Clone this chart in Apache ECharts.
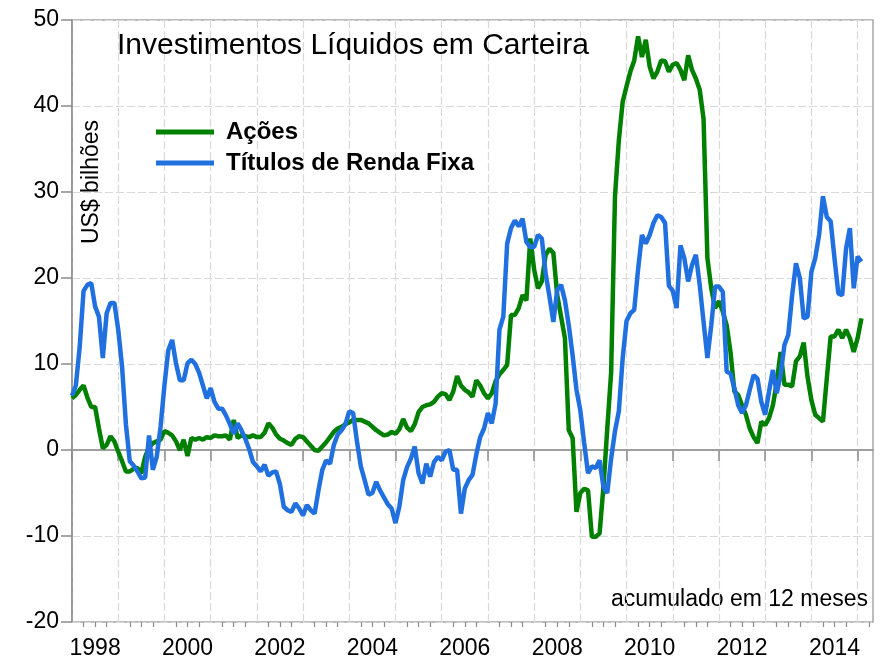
<!DOCTYPE html>
<html>
<head>
<meta charset="utf-8">
<script src="https://cdn.jsdelivr.net/npm/echarts@6/dist/echarts.min.js"></script>
<style>
  html, body { margin: 0; padding: 0; background: #fff; }
  #chart { width: 882px; height: 662px; }
</style>
</head>
<body>
<div id="chart"></div>
<script>
// meses de jan/1998 a mai/2015 (eixo)
var months = [];
for (var y = 1998; y <= 2015; y++) {
  for (var m = 1; m <= 12; m++) {
    if (months.length < 209) months.push(y + '-' + (m < 10 ? '0' + m : m));
  }
}

// anos com rótulo no eixo x
var labelYears = ['1998', '2000', '2002', '2004', '2006', '2008', '2010', '2012', '2014'];

// Ações - US$ bilhões, acumulado em 12 meses (jan/1998 ...)
var acoes = [
  6.0, 6.4, 7.0, 7.5, 6.1, 5.0, 5.0, 2.5, 0.2, 0.6, 1.6, 1.0,
  -0.2, -1.3, -2.5, -2.5, -2.2, -2.1, -2.7, -0.8, 0.3, 0.8, 1.0, 1.2,
  2.2, 2.0, 1.7, 1.0, 0.0, 1.2, -0.7, 1.4, 1.2, 1.4, 1.2, 1.5,
  1.4, 1.7, 1.6, 1.6, 1.7, 1.2, 3.5, 1.4, 1.7, 1.6, 1.5, 1.7,
  1.5, 1.5, 2.0, 3.1, 2.6, 1.8, 1.3, 1.1, 0.8, 0.6, 1.3, 1.6,
  1.5, 1.0, 0.5, 0.0, -0.1, 0.4, 0.9, 1.5, 2.1, 2.5, 2.7, 3.0,
  3.2, 3.5, 3.5, 3.5, 3.3, 3.1, 2.7, 2.3, 2.0, 1.7, 1.8, 2.1,
  1.9, 2.4, 3.6, 2.6, 2.2, 3.0, 4.4, 5.0, 5.2, 5.3, 5.6, 6.2,
  6.6, 6.5, 5.8, 6.8, 8.6, 7.5, 7.0, 6.7, 6.2, 8.1, 7.5, 6.6,
  6.0, 6.6, 8.0, 8.8, 9.3, 9.9, 15.7, 15.7, 16.5, 18.0, 17.4, 24.6,
  21.0, 18.8, 19.6, 22.7, 23.4, 22.9, 18.0, 15.5, 13.0, 2.3, 1.4, -7.2,
  -5.0, -4.5, -4.7, -10.1, -10.1, -9.7, -4.3, 2.5, 9.0, 29.5, 36.0, 40.5,
  42.3, 44.0, 45.3, 48.1, 45.7, 47.7, 44.6, 43.2, 44.0, 45.3, 45.2, 44.0,
  44.8, 45.0, 44.2, 43.0, 45.9, 44.2, 43.2, 41.9, 38.5, 22.3, 18.8, 16.5,
  17.3, 16.1, 14.5, 11.4, 6.8, 6.4, 5.2, 4.1, 2.5, 1.5, 0.8, 3.3,
  2.9, 3.7, 5.2, 7.8, 11.4, 7.6, 7.6, 7.4, 10.3, 10.9, 12.5, 8.5,
  5.8, 4.1, 3.7, 3.3, 8.3, 13.2, 13.2, 14.0, 13.0, 14.0, 13.0, 11.4,
  13.0, 15.3
];

// Títulos de Renda Fixa
var titulos = [
  6.3, 7.5, 12.0, 18.5, 19.2, 19.4, 16.7, 15.5, 10.7, 15.9, 17.1, 17.1,
  14.0, 9.7, 3.0, -1.3, -1.8, -2.5, -3.3, -3.2, 1.7, -2.3, -0.8, 2.7,
  7.5, 11.6, 12.8, 10.1, 8.1, 8.1, 10.1, 10.5, 10.0, 9.0, 7.5, 6.0,
  7.2, 5.6, 4.8, 4.8, 4.0, 3.0, 1.9, 3.1, 2.3, 1.3, 0.1, -1.4,
  -1.9, -2.5, -1.7, -3.0, -2.6, -2.5, -4.0, -6.6, -7.0, -7.2, -6.2, -6.8,
  -7.6, -6.4, -7.0, -7.4, -4.7, -2.3, -1.2, -1.6, 0.6, 1.8, 2.3, 3.0,
  4.5, 4.3, 1.0, -1.9, -3.5, -5.2, -5.0, -3.7, -4.7, -5.5, -6.3, -6.8,
  -8.5, -6.6, -3.5, -2.0, -1.0, 0.4, -2.7, -3.9, -1.6, -3.1, -1.4, -0.8,
  -1.2, -0.2, 0.0, -2.3, -2.3, -7.4, -4.5, -3.5, -2.9, -0.5, 1.5, 2.5,
  4.3, 3.1, 5.4, 14.0, 15.5, 24.0, 25.8, 26.7, 26.0, 26.9, 24.2, 23.6,
  23.6, 25.0, 24.6, 20.5, 17.8, 14.9, 18.6, 19.2, 17.4, 14.5, 11.0, 7.0,
  4.6, 0.8, -2.7, -1.9, -2.1, -1.2, -4.3, -5.0, -1.0, 2.2, 4.5, 10.7,
  15.0, 15.9, 16.3, 21.0, 25.0, 24.0, 25.0, 26.4, 27.3, 27.1, 26.4, 19.1,
  18.5, 16.5, 23.8, 22.3, 19.6, 21.5, 22.7, 19.2, 14.9, 10.7, 14.5, 19.0,
  19.0, 18.4, 9.1, 8.9, 7.2, 5.2, 4.3, 5.2, 7.0, 8.7, 8.3, 5.6,
  4.1, 6.8, 9.3, 6.6, 8.7, 12.2, 13.4, 18.0, 21.7, 20.0, 15.3, 15.5,
  20.7, 22.3, 25.0, 29.5, 27.1, 26.6, 22.3, 18.2, 18.0, 23.4, 25.8, 18.8,
  22.5, 21.9
];

var font = 'Liberation Sans';
var axisGray = '#8c8c8c';

var chart = echarts.init(document.getElementById('chart'));

var option = {
  animation: false,
  backgroundColor: '#fff',
  title: {
    text: 'Investimentos Líquidos em Carteira',
    left: 117,
    top: 31,
    padding: 0,
    textStyle: { fontFamily: font, fontSize: 30, fontWeight: 'normal', color: '#000' }
  },
  legend: {
    data: ['Ações', 'Títulos de Renda Fixa'],
    orient: 'vertical',
    left: 156,
    top: 120,
    padding: 0,
    icon: 'rect',
    itemWidth: 58,
    itemHeight: 5,
    itemGap: 7,
    textStyle: { fontFamily: font, fontSize: 24, fontWeight: 'bold', color: '#000', lineHeight: 24, padding: [0, 0, 0, 7] }
  },
  grid: {
    left: 72, top: 20, right: 9, bottom: 40,
    show: true, borderColor: '#a6a6a6', borderWidth: 1.5
  },
  xAxis: [
    {
      type: 'category',
      data: months,
      boundaryGap: false,
      position: 'bottom',
      axisLine: { lineStyle: { color: axisGray, width: 1.5 } },
      axisTick: {
        interval: function (i) { return i % 12 === 0; },
        length: 11,
        lineStyle: { color: axisGray, width: 1.5 }
      },
      axisLabel: {
        interval: function (i, v) { return i % 12 === 6 && labelYears.indexOf(v.slice(0, 4)) >= 0; },
        formatter: function (v) { return v.slice(0, 4); },
        margin: 15,
        fontFamily: font, fontSize: 23, color: '#000'
      },
      splitLine: {
        show: true,
        interval: function (i) { return i % 12 === 0; },
        lineStyle: { color: '#d9d9d9', type: [8, 3], width: 1.2 }
      }
    },
    {
      type: 'category',
      data: months,
      boundaryGap: false,
      position: 'bottom',
      axisLine: { show: false },
      axisTick: {
        interval: function (i) { return i % 3 === 0 && i % 12 !== 0; },
        length: 5,
        lineStyle: { color: axisGray, width: 1.2 }
      },
      axisLabel: { show: false },
      splitLine: { show: false }
    }
  ],
  yAxis: {
    type: 'value',
    min: -20,
    max: 50,
    interval: 10,
    axisLine: { show: true, lineStyle: { color: axisGray, width: 1.5 } },
    axisTick: { show: true, length: 11, lineStyle: { color: axisGray, width: 1.5 } },
    axisLabel: { margin: 13, fontFamily: font, fontSize: 23, color: '#000' },
    splitLine: { lineStyle: { color: '#d9d9d9', type: [8, 3], width: 1.2 } }
  },
  graphic: [
    {
      type: 'text',
      x: 92, y: 182,
      rotation: Math.PI / 2,
      style: { text: 'US$ bilhões', font: '23px "Liberation Sans"', fill: '#000', textAlign: 'center', textVerticalAlign: 'middle' }
    },
    {
      type: 'text',
      x: 868, y: 600,
      style: { text: 'acumulado em 12 meses', font: '23px "Liberation Sans"', fill: '#000', textAlign: 'right', textVerticalAlign: 'middle' }
    }
  ],
  series: [
    {
      name: 'Ações',
      type: 'line',
      data: acoes,
      showSymbol: false,
      color: '#008000',
      lineStyle: { width: 4.5, color: '#008000' },
      markLine: {
        silent: true,
        z: 1,
        symbol: ['none', 'none'],
        label: { show: false },
        lineStyle: { color: '#9e9e9e', type: 'solid', width: 1.5 },
        data: [{ yAxis: 0 }]
      }
    },
    {
      name: 'Títulos de Renda Fixa',
      type: 'line',
      data: titulos,
      showSymbol: false,
      color: '#2170E0',
      lineStyle: { width: 4.5, color: '#2170E0' }
    }
  ]
};

chart.setOption(option);
</script>
</body>
</html>
